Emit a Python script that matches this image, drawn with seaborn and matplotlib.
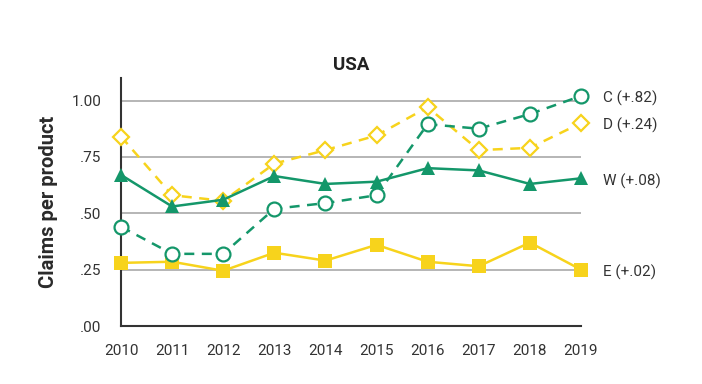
import numpy as np
import pandas as pd
import matplotlib
matplotlib.use("Agg")
import matplotlib.pyplot as plt
import seaborn as sns

# data
years = [2010, 2011, 2012, 2013, 2014, 2015, 2016, 2017, 2018, 2019]
c_vals = [0.44, 0.32, 0.32, 0.52, 0.545, 0.58, 0.895, 0.875, 0.94, 1.02]
d_vals = [0.84, 0.58, 0.555, 0.72, 0.78, 0.845, 0.97, 0.78, 0.79, 0.90]
w_vals = [0.67, 0.53, 0.56, 0.665, 0.63, 0.64, 0.70, 0.69, 0.63, 0.655]
e_vals = [0.28, 0.285, 0.245, 0.325, 0.29, 0.36, 0.285, 0.265, 0.37, 0.25]
series_labels = ["C (+.82)", "D (+.24)", "W (+.08)", "E (+.02)"]
y_ticks = [0.0, 0.25, 0.5, 0.75, 1.0]
y_ticklabels = [".00", ".25", ".50", ".75", "1.00"]

GREEN = "#14976a"
YELLOW = "#f7d31c"

sns.set_style("white")
plt.rcParams["font.family"] = ["Roboto", "DejaVu Sans"]

fig = plt.figure(figsize=(7.02, 3.84), dpi=100)
ax = fig.add_axes([0.1724, 0.151, 0.6552, 0.646])

for y in y_ticks[1:]:
    ax.axhline(y, color="#b0b0b0", lw=1.3, zorder=0)

df = pd.DataFrame({"year": years, "C": c_vals, "D": d_vals, "W": w_vals, "E": e_vals})

styles = {
    "D": dict(color=YELLOW, marker="D", ms=8.5, mfc="white", mec=YELLOW, mew=1.6, ls=(0, (4, 3))),
    "E": dict(color=YELLOW, marker="s", ms=10, mfc=YELLOW, mec=YELLOW, mew=0, ls="-"),
    "C": dict(color=GREEN, marker="o", ms=10, mfc="white", mec=GREEN, mew=1.6, ls=(0, (4, 3))),
    "W": dict(color=GREEN, marker="^", ms=10.5, mfc=GREEN, mec=GREEN, mew=0, ls="-"),
}
for key in ["D", "E", "C", "W"]:
    st = styles[key]
    sns.lineplot(data=df, x="year", y=key, ax=ax, color=st["color"], lw=1.8,
                 linestyle=st["ls"], marker=st["marker"], markersize=st["ms"],
                 markerfacecolor=st["mfc"], markeredgecolor=st["mec"],
                 markeredgewidth=st["mew"], clip_on=False, zorder=3)

ax.set_xlim(2010, 2019)
ax.set_ylim(0, 1.1)
ax.set_xticks(years)
ax.set_xticklabels([str(y) for y in years])
ax.set_yticks(y_ticks)
ax.set_yticklabels(y_ticklabels)
ax.tick_params(axis="both", direction="in", length=5, width=1.3, color="#333333",
               labelsize=11, labelcolor="#333333")
ax.tick_params(axis="x", pad=13)
ax.tick_params(axis="y", pad=14)

for side in ["top", "right"]:
    ax.spines[side].set_visible(False)
for side in ["left", "bottom"]:
    ax.spines[side].set_color("#333333")
    ax.spines[side].set_linewidth(1.5)

# end labels
last = [c_vals[-1], d_vals[-1], w_vals[-1], e_vals[-1]]
for lab, val in zip(series_labels, last):
    ax.text(2019.44, val - 0.012, lab, fontsize=11, color="#333333", va="center", ha="left")

ax.set_title("USA", fontsize=13.5, fontweight="bold", color="#222222", pad=6)
ax.set_ylabel("Claims per product", fontsize=14.5, fontweight="bold", color="#2a2a2a", labelpad=10)
ax.set_xlabel("")

fig.savefig("out.png", dpi=100)
